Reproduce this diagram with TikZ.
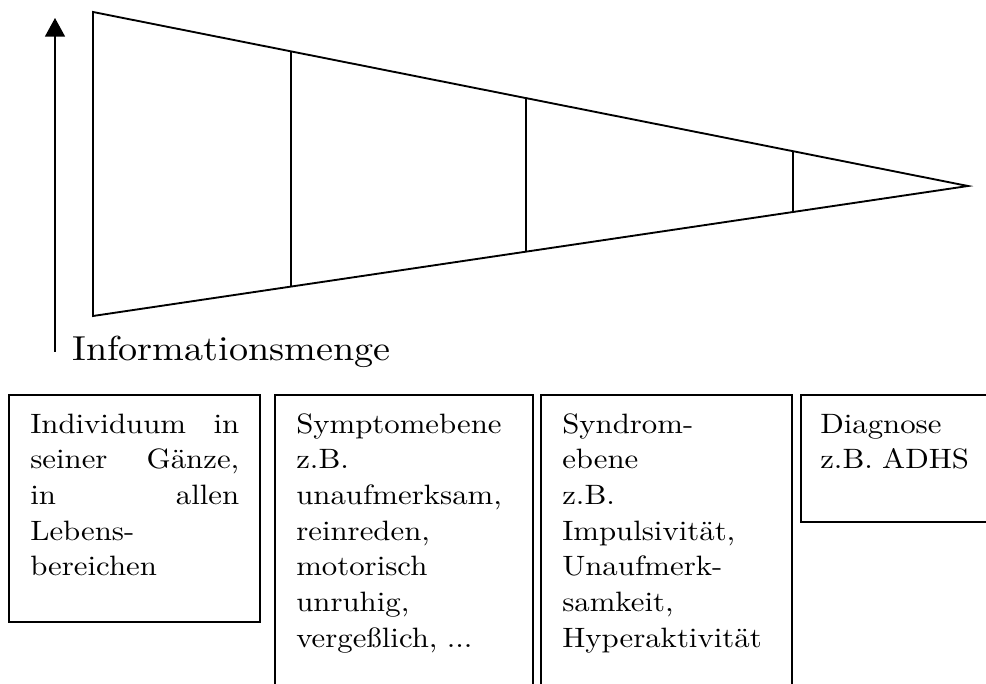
\documentclass[tikz,border=0pt]{standalone}
\usepackage{fontspec}
\setmainfont{lmroman10-regular}[Extension=.otf, FakeStretch=1.1]
\usetikzlibrary{arrows.meta}
\tikzset{
  outline/.style={line width=1.4pt, line join=miter},
  divider/.style={line width=1.1pt},
  boxframe/.style={line width=1.3pt},
  boxtext/.style={anchor=base west, inner sep=0pt, align=left, text width=180pt, font=\fontsize{21}{26.8}\selectfont},
}
\begin{document}
\begin{tikzpicture}[x=0.75pt,y=-0.75pt]
\useasboundingbox (0,0) rectangle (986,684);
\clip (0,0) rectangle (986,684);
% axis arrow
\coordinate (abot) at (55,352);
\coordinate (atop) at (55,18);
\draw[line width=1.2pt, -{Triangle[length=14pt,width=15pt]}] (abot) -- (atop);
% funnel
\coordinate (tl) at (93,12);
\coordinate (bl) at (93,316);
\coordinate (tip) at (968,186);
\draw[outline] (tl) -- (tip) -- (bl) -- cycle;
\foreach \x/\n in {291/a,526/b,793/c}{
  \path (tl) -- (tip) coordinate[pos={(\x-93)/875}] (t\n);
  \path (bl) -- (tip) coordinate[pos={(\x-93)/875}] (b\n);
  \draw[divider] (t\n) -- (b\n);
}
\node[anchor=base west, inner sep=0pt, font=\fontsize{26}{30}\selectfont] (label) at (72,361) {Informationsmenge};
% boxes
\draw[boxframe] (9,395) rectangle (260,622);
\draw[boxframe] (275,395) rectangle (533,720);
\draw[boxframe] (541,395) rectangle (792,720);
\draw[boxframe] (801,395) rectangle (1010,522);
\node[boxtext, text width=156.75pt] (t1) at (30,433) {Individuum\hfill in\\ seiner\hfill Gänze,\\ in\hfill allen\\ Lebens-\\ bereichen};
\node[boxtext] (t2) at (296,433) {Symptomebene\\ z.B.\\ unaufmerksam,\\ reinreden,\\ motorisch\\ unruhig,\\ vergeßlich, ...};
\node[boxtext] (t3) at (562,433) {Syndrom-\\ ebene\\ z.B.\\ Impulsivität,\\ Unaufmerk-\\ samkeit,\\ Hyperaktivität};
\node[boxtext] (t4) at (820,433) {Diagnose\\ z.B. ADHS};
\end{tikzpicture}
\end{document}
